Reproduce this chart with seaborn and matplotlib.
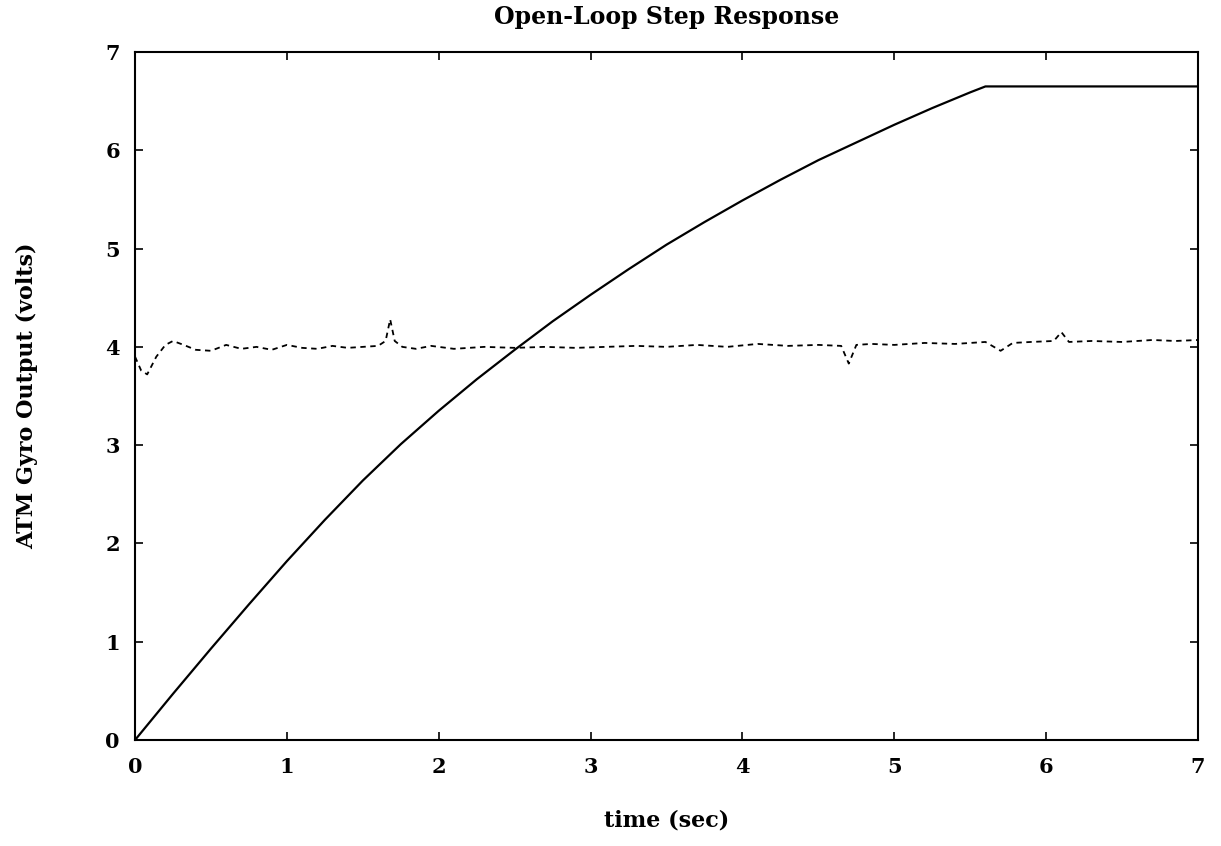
import numpy as np
import pandas as pd
import matplotlib
matplotlib.use("Agg")
import matplotlib.pyplot as plt
import seaborn as sns

# solid curve: open-loop step response
t_step = [0.0, 0.25, 0.5, 0.75, 1.0, 1.25, 1.5, 1.75, 2.0, 2.25, 2.5, 2.75,
          3.0, 3.25, 3.5, 3.75, 4.0, 4.25, 4.5, 4.75, 5.0, 5.25, 5.5, 5.6, 7.0]
v_step = [0.0, 0.47, 0.93, 1.38, 1.82, 2.24, 2.64, 3.01, 3.35, 3.67, 3.97, 4.26,
          4.53, 4.79, 5.04, 5.27, 5.49, 5.70, 5.90, 6.08, 6.26, 6.43, 6.59, 6.65, 6.65]

# dashed curve: gyro output around 4 V
t_gyro = [0.0, 0.04, 0.08, 0.14, 0.20, 0.25, 0.32, 0.40, 0.50, 0.60, 0.70, 0.80,
          0.90, 1.00, 1.10, 1.20, 1.30, 1.40, 1.50, 1.60, 1.65, 1.68, 1.71, 1.76,
          1.85, 1.95, 2.10, 2.30, 2.50, 2.70, 2.90, 3.10, 3.30, 3.50, 3.70, 3.90,
          4.10, 4.30, 4.50, 4.65, 4.70, 4.75, 4.85, 5.00, 5.20, 5.40, 5.60, 5.70,
          5.78, 5.90, 6.05, 6.10, 6.15, 6.30, 6.50, 6.70, 6.85, 7.0]
v_gyro = [3.90, 3.76, 3.72, 3.90, 4.02, 4.06, 4.02, 3.97, 3.96, 4.02, 3.98, 4.00,
          3.97, 4.02, 3.99, 3.98, 4.01, 3.99, 4.00, 4.01, 4.06, 4.28, 4.06, 4.00,
          3.98, 4.01, 3.98, 4.00, 3.99, 4.00, 3.99, 4.00, 4.01, 4.00, 4.02, 4.00,
          4.03, 4.01, 4.02, 4.01, 3.83, 4.02, 4.03, 4.02, 4.04, 4.03, 4.05, 3.96,
          4.04, 4.05, 4.06, 4.15, 4.05, 4.06, 4.05, 4.07, 4.06, 4.07]

sns.set_theme(style="ticks")
plt.rcParams['font.family'] = ['DejaVu Serif']
plt.rcParams['text.color'] = 'black'
plt.rcParams['axes.labelcolor'] = 'black'

df_step = pd.DataFrame({'t': t_step, 'v': v_step})
df_gyro = pd.DataFrame({'t': t_gyro, 'v': v_gyro})

fig = plt.figure(figsize=(12.21, 8.46), dpi=100)
ax = fig.add_axes([0.1106, 0.1253, 0.8706, 0.8132])

sns.lineplot(data=df_step, x='t', y='v', ax=ax, color='black', linewidth=1.6,
             sort=False, estimator=None)
sns.lineplot(data=df_gyro, x='t', y='v', ax=ax, color='black', linewidth=1.3,
             linestyle=(0, (3, 2.5)), sort=False, estimator=None)

ax.set_xlim(0, 7)
ax.set_ylim(0, 7)
ax.set_xticks(range(8))
ax.set_yticks(range(8))
ax.tick_params(direction='in', top=True, right=True, length=6, width=1.2,
               labelsize=15, colors='black')
ax.tick_params(axis='x', pad=12)
ax.tick_params(axis='y', pad=11)
for lbl in ax.get_xticklabels() + ax.get_yticklabels():
    lbl.set_fontweight('bold')
for s in ax.spines.values():
    s.set_visible(True)
    s.set_color('black')
    s.set_linewidth(1.5)

ax.set_title('Open-Loop Step Response', fontsize=17, fontweight='bold', pad=20)
ax.set_xlabel('time (sec)', fontsize=16, fontweight='bold', labelpad=24)
ax.set_ylabel('ATM Gyro Output (volts)', fontsize=16, fontweight='bold', labelpad=48)

fig.savefig('out.png', dpi=100, facecolor='white')
